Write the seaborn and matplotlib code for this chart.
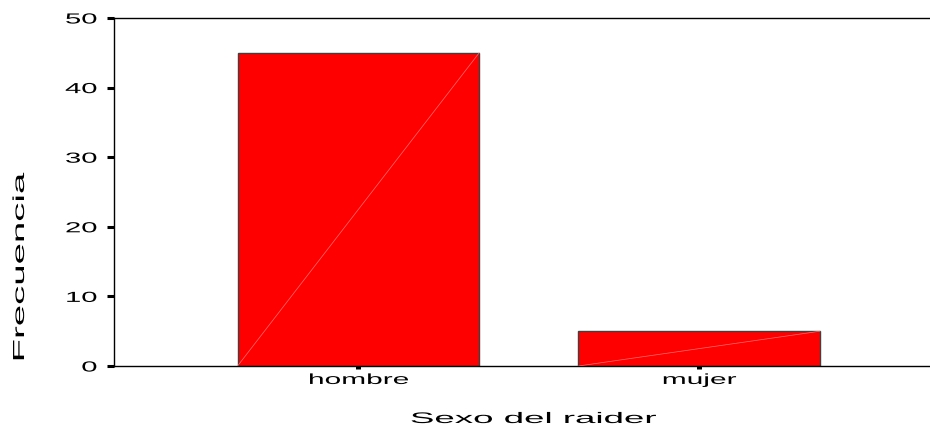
import matplotlib
matplotlib.use("Agg")
import matplotlib.pyplot as plt
import seaborn as sns
import pandas as pd
from matplotlib.patheffects import AbstractPathEffect
from matplotlib.transforms import Affine2D

categories = ["hombre", "mujer"]
values = [45, 5]
y_ticks = [0, 10, 20, 30, 40, 50]
x_label = "Sexo del raider"
y_label = "Frecuencia"

sns.set_style("white")
plt.rcParams['font.family'] = ['Liberation Sans', 'DejaVu Sans']
plt.rcParams['text.color'] = 'black'
plt.rcParams['axes.labelcolor'] = 'black'
plt.rcParams['xtick.color'] = 'black'
plt.rcParams['ytick.color'] = 'black'


class Stretch(AbstractPathEffect):
    """Widen text horizontally (in its own frame) like the wide original font."""
    def __init__(self, sx, anchor=0.5):
        super().__init__()
        self.sx = sx
        self.anchor = anchor

    def draw_path(self, renderer, gc, tpath, affine, rgbFace=None):
        v = tpath.vertices
        if len(v) == 0:
            renderer.draw_path(gc, tpath, affine, rgbFace)
            return
        x0, x1 = v[:, 0].min(), v[:, 0].max()
        cx = x0 + self.anchor * (x1 - x0)
        t = Affine2D().translate(-cx, 0).scale(self.sx, 1).translate(cx, 0) + affine
        renderer.draw_path(gc, tpath, t, rgbFace)


df = pd.DataFrame({"cat": categories, "val": values})

fig = plt.figure(figsize=(9.3, 4.25), dpi=100)
ax = fig.add_axes([114/930, (425-366)/425, (930-114)/930, (366-18)/425])

sns.barplot(data=df, x="cat", y="val", color="#ff0000", saturation=1,
            width=0.709, edgecolor="#404040", linewidth=1.0, ax=ax)

# thin light diagonal seen in the original rendering
for p in ax.patches:
    x0, y0, w, h = p.get_x(), p.get_y(), p.get_width(), p.get_height()
    ax.plot([x0, x0 + w], [y0, y0 + h], color="#ff7070", lw=0.5, zorder=3)

ax.set_xlim(-0.717, 1.677)
ax.set_ylim(0, 50)
ax.set_yticks(y_ticks)
ax.set_yticklabels([str(t) for t in y_ticks])

for s in ["left", "bottom", "top"]:
    ax.spines[s].set_visible(True)
    ax.spines[s].set_color("black")
    ax.spines[s].set_linewidth(1.0)
ax.spines["right"].set_visible(False)

ax.tick_params(axis="y", direction="out", length=5, width=2.2, pad=7.2,
               labelsize=10.5, left=True)
ax.tick_params(axis="x", direction="out", length=1.8, width=3.6, pad=3.2,
               labelsize=10.5, bottom=True)

for lbl in ax.get_yticklabels():
    lbl.set_path_effects([Stretch(2.0, anchor=1.0)])
for lbl in ax.get_xticklabels():
    lbl.set_path_effects([Stretch(2.05, anchor=0.5)])

ax.set_xlabel(x_label, fontsize=11, va="baseline")
ax.xaxis.set_label_coords((533 - 114) / 816, -(423 - 366) / 348)
ax.xaxis.label.set_path_effects([Stretch(2.4, anchor=0.5)])

ax.set_ylabel(y_label, fontsize=11.5, va="baseline")
ax.yaxis.set_label_coords((24 - 114) / 816, (366 - 267.5) / 348)
ax.yaxis.label.set_path_effects([Stretch(2.4, anchor=0.5)])

fig.savefig("out.png", dpi=100)
